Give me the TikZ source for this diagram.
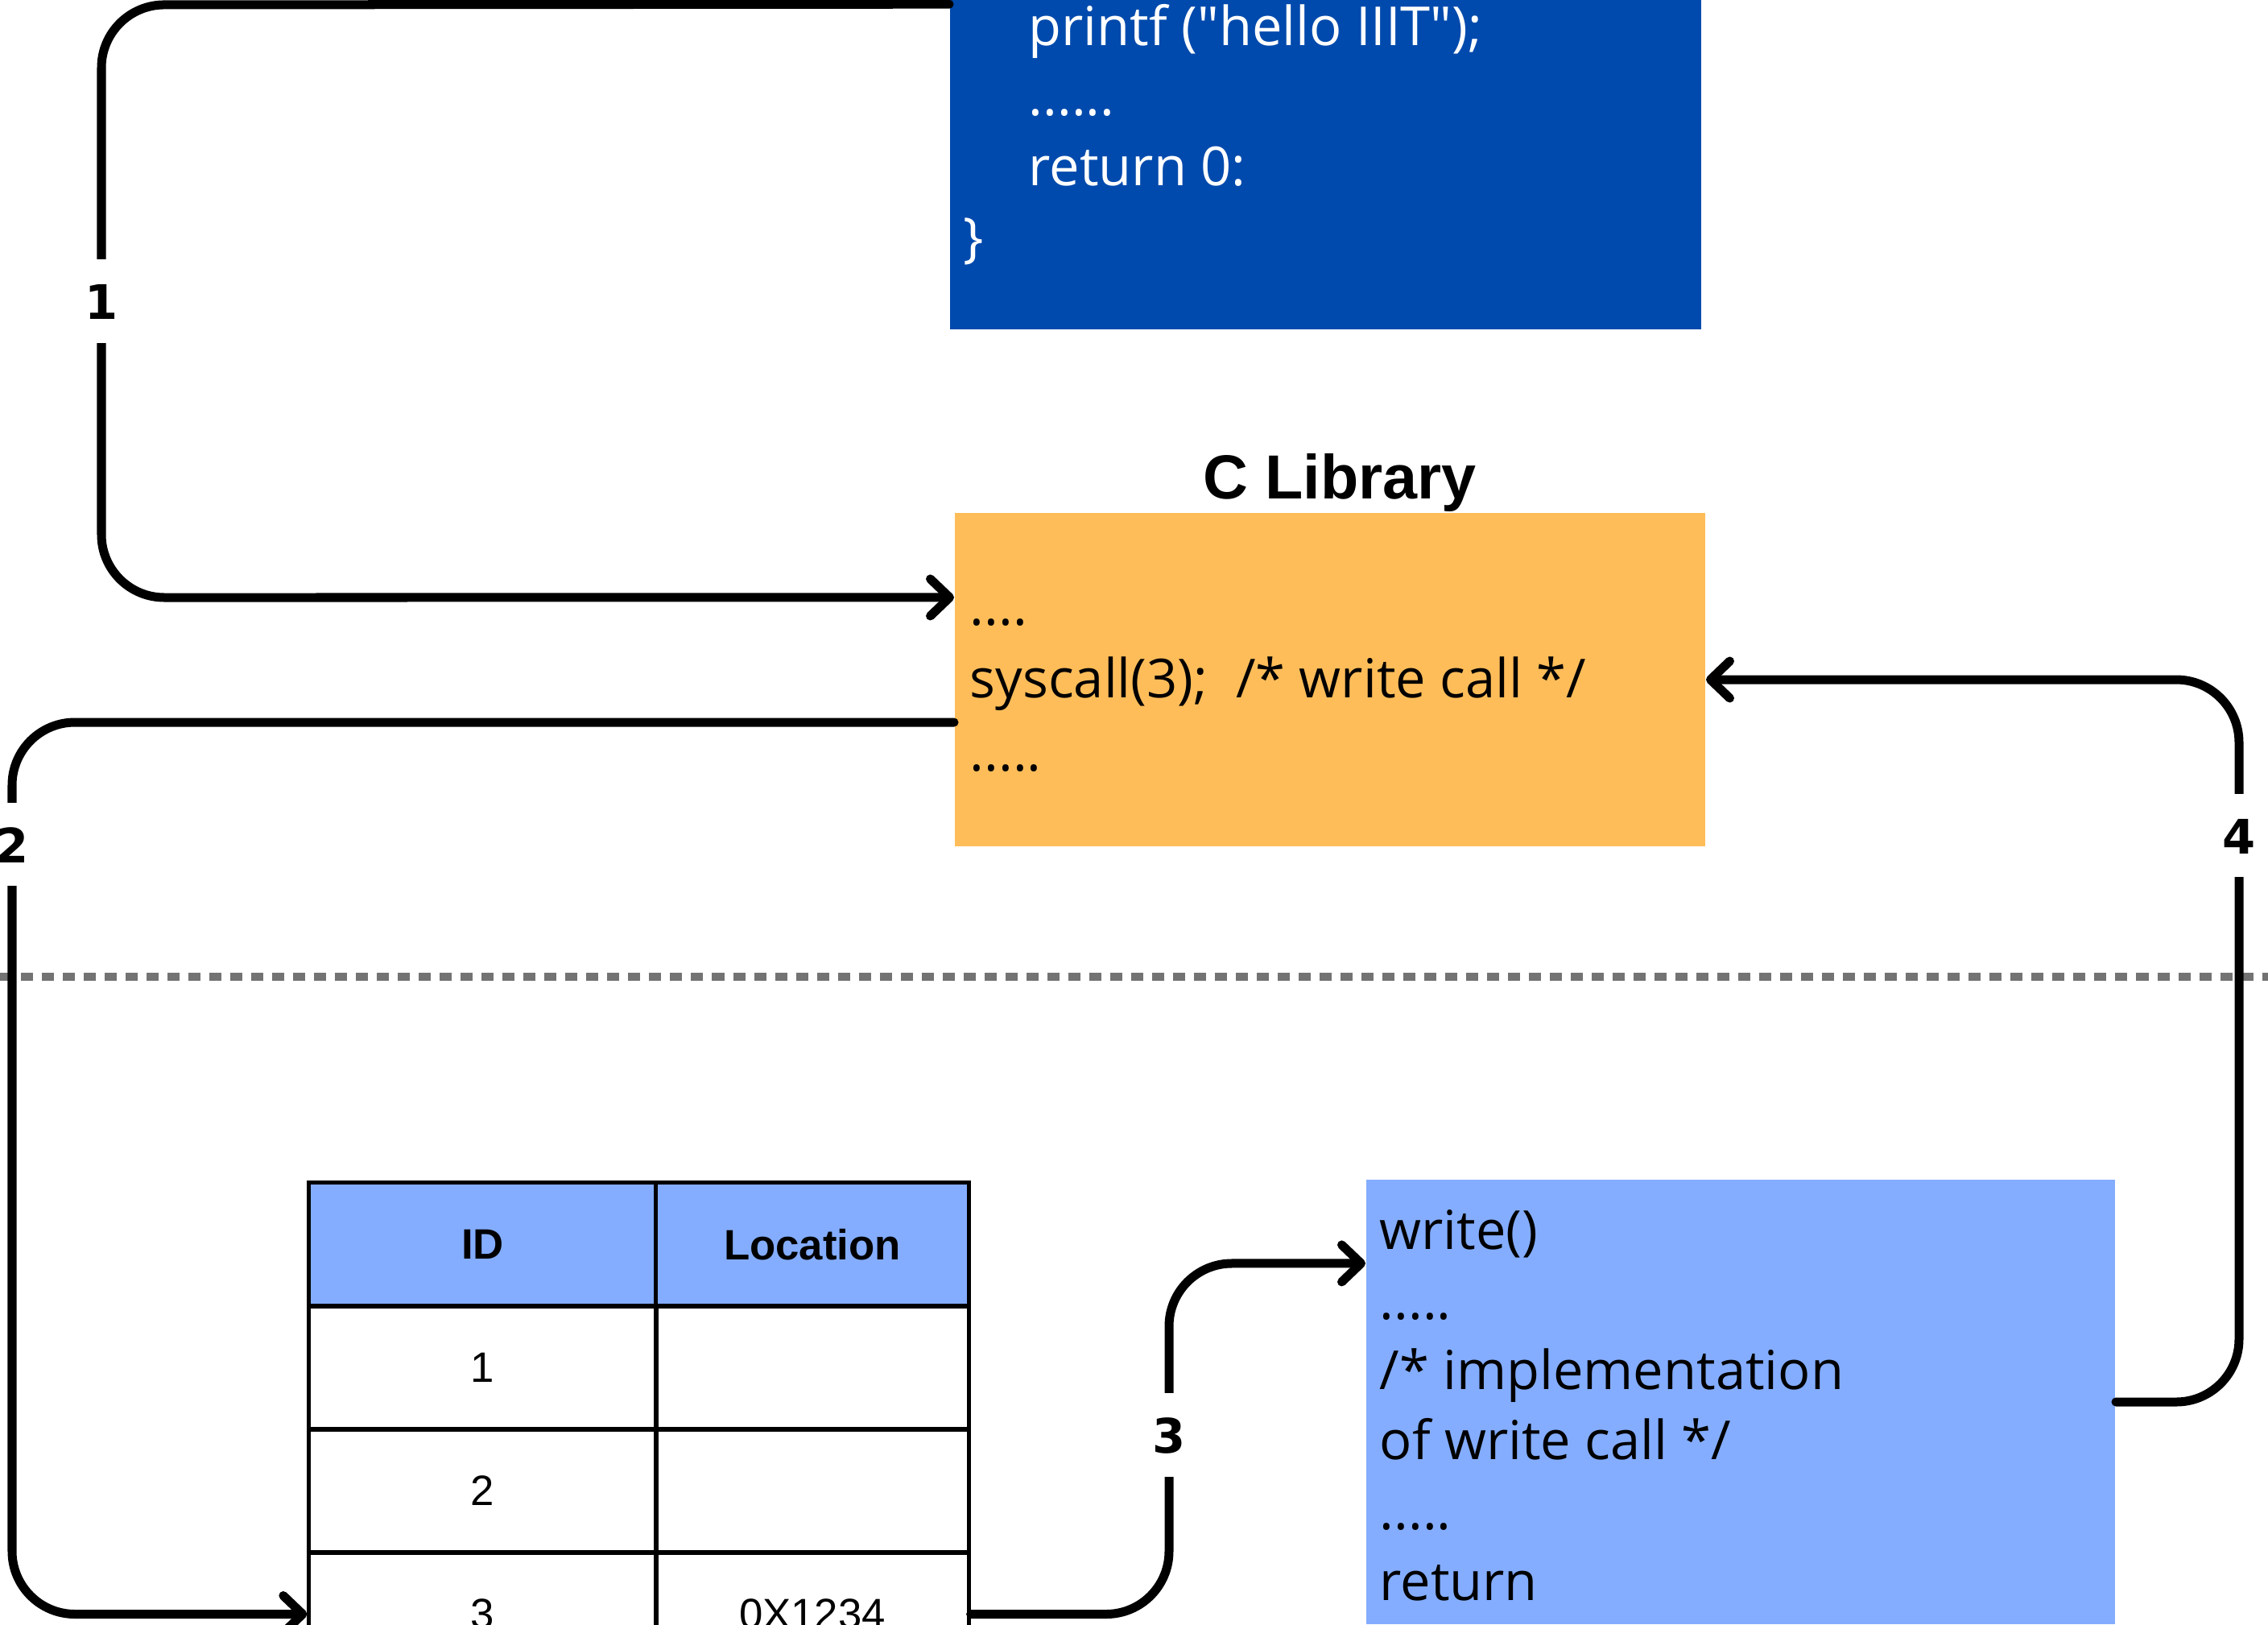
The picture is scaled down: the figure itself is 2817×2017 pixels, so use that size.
\documentclass[tikz,border=0pt]{standalone}
\usepackage{fontspec}
\setmainfont{Open Sans}
\newfontfamily\tableFont{Liberation Sans}
\newfontfamily\stepFont{DejaVu Sans}
\usetikzlibrary{arrows.meta}

\definecolor{codeBlue}{HTML}{004AAD}
\definecolor{libOrange}{HTML}{FFBD59}
\definecolor{kernelBlue}{HTML}{84ADFF}
\definecolor{sepGray}{HTML}{737373}

\newcommand{\sysBoxWidth}{9.32cm}
\newcommand{\sysRowHeight}{1.53cm}
\newcommand{\sysCodeIndent}{\hspace*{0.81cm}}
\tikzset{
  sc box/.style={rectangle, draw=none, inner sep=0pt, minimum width=\sysBoxWidth},
  sc text/.style={font=\fontsize{19pt}{24.75pt}\selectfont, align=left,
    anchor=base west, inner sep=0pt},
  sc arrow/.style={line width=0.11cm, line cap=round, rounded corners=0.78cm,
    -{Straight Barb[length=0.24cm, width=0.46cm, line cap=round, line join=round]}},
  sc step/.style={fill=white, sharp corners, font=\stepFont\bfseries\fontsize{16.8pt}{18pt}\selectfont,
    text height=0.45cm, text depth=0pt, inner xsep=3pt, inner ysep=0.29cm},
  sc cell/.style={draw, line width=0.05cm, minimum height=\sysRowHeight, inner sep=0pt,
    font=\tableFont\fontsize{15pt}{18pt}\selectfont},
  sc head/.style={sc cell, fill=kernelBlue,
    font=\tableFont\bfseries\fontsize{15pt}{18pt}\selectfont},
  sc sep/.style={draw=sepGray, line width=0.1cm, dash pattern=on 0.15cm off 0.11cm},
}

\begin{document}
\begin{tikzpicture}[
    x=0.01cm, y=-0.01cm,
    codebox/.style={sc box},
    arrow/.style={sc arrow},
    steplabel/.style={sc step},
    title/.style={font=\tableFont\bfseries\fontsize{22pt}{26pt}\selectfont, inner sep=0pt}
]
\useasboundingbox (0,0) rectangle (2817,2017);

% user space (text nodes sit on the baseline of their last line)
\node (code) [codebox, fill=codeBlue, minimum width=9.33cm, minimum height=4.09cm]
  at (1646.5,204.5) {};
\node (codeText) [sc text, text=white] at (1196,318)
  {\sysCodeIndent printf (\textquotedbl hello IIIT\textquotedbl);\\ \sysCodeIndent ......\\
   \sysCodeIndent return 0:\\ \}};

\node (lib) [codebox, fill=libOrange, minimum height=4.14cm] at (1652,844) {};
\node (libTitle) [title, anchor=base] at ([xshift=0.12cm, yshift=0.17cm]lib.north) {C Library};
\node (libText) [sc text, font=\fontsize{19pt}{25.6pt}\selectfont] at (1204,957)
  {....\\ syscall(3);\ \ /* write call */\\ .....};

% kernel space
\draw [sc sep] (0,1213) -- (2817,1213);

\node (write) [codebox, fill=kernelBlue, minimum width=9.30cm, minimum height=5.52cm]
  at (2162,1741) {};
\node (writeText) [sc text] at (1713,1987)
  {write()\\ .....\\ /* implementation\\ of write call */\\ .....\\ return};

% system call table
\node (idHead)  [sc head, minimum width=4.31cm] at (599.5,1545.5) {ID};
\node (locHead) [sc head, minimum width=3.88cm] at (1009,1545.5) {Location};
\node (id1)  [sc cell, minimum width=4.31cm] at (599.5,1698.5) {1};
\node (loc1) [sc cell, minimum width=3.88cm] at (1009,1698.5) {};
\node (id2)  [sc cell, minimum width=4.31cm] at (599.5,1851.5) {2};
\node (loc2) [sc cell, minimum width=3.88cm] at (1009,1851.5) {};
\node (id3)  [sc cell, minimum width=4.31cm] at (599.5,2004.5) {3};
\node (loc3) [sc cell, minimum width=3.88cm] at (1009,2004.5) {0X1234};

\draw [arrow] ([yshift=-0.06cm]code.north west) -- (126,6)
  -- (126,742) node [steplabel, pos=0.5] {1} -- ([yshift=1.02cm]lib.west);
\draw [arrow] ([yshift=-0.53cm]lib.west) -- (15,897)
  -- (15,0 |- id3.west) node [steplabel, pos=0.137] {2} -- (id3.west);
\draw [arrow] (loc3.east) -- (1452,0 |- loc3.east)
  -- (1452,1569) node [steplabel, pos=0.511] {3} -- ([yshift=1.72cm]write.west);
\draw [arrow] (write.east) -- (2781,0 |- write.east)
  -- (2781,0 |- lib.east) node [steplabel, pos=0.784] {4} -- (lib.east);
\end{tikzpicture}
\end{document}
